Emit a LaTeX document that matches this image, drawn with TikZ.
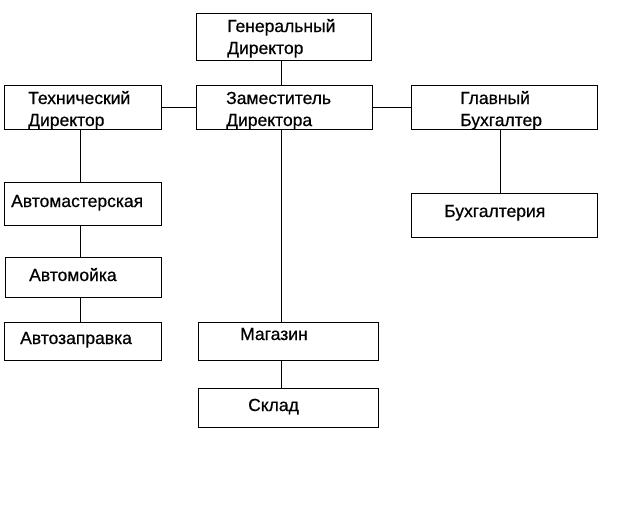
\documentclass[tikz,border=0pt]{standalone}
\usepackage{fontspec}
\setmainfont{Liberation Sans}
\newfontfamily\heavyfont{Liberation Sans}[FakeBold=0.6]
\begin{document}
\begin{tikzpicture}[x=1pt,y=-1pt,
  box/.style={draw, line width=1pt, inner sep=0pt, anchor=north west},
  txt/.style={inner sep=0pt, anchor=base west, text width=170pt, align=left,
    font=\heavyfont\fontsize{17.5}{22}\selectfont},
  link/.style={line width=1pt}]
\useasboundingbox (0,0) rectangle (640,512);
% boxes
\node[box, minimum width=175pt, minimum height=47pt] (gen) at (196,13) {};
\node[box, minimum width=157.5pt, minimum height=44pt] (tech) at (3.5,85) {};
\node[box, minimum width=176pt, minimum height=44pt] (zam) at (196,85) {};
\node[box, minimum width=186pt, minimum height=44pt] (glav) at (411,85) {};
\node[box, minimum width=157pt, minimum height=42.5pt] (avtom) at (3.5,182) {};
\node[box, minimum width=186pt, minimum height=44.5pt] (buh) at (411,192.5) {};
\node[box, minimum width=156pt, minimum height=40pt] (moika) at (5,257) {};
\node[box, minimum width=157pt, minimum height=38pt] (zapr) at (3.5,322) {};
\node[box, minimum width=180pt, minimum height=38pt] (mag) at (197.5,322) {};
\node[box, minimum width=180pt, minimum height=39pt] (sklad) at (197.5,388) {};
% texts
\node[txt] (gent) at (227,32) {Генеральный\\Директор};
\node[txt] (techt) at (28,104) {Технический\\Директор};
\node[txt] (zamt) at (226,104) {Заместитель\\Директора};
\node[txt] (glavt) at (460,104) {Главный\\Бухгалтер};
\node[txt] (avtomt) at (11,207) {Автомастерская};
\node[txt] (buht) at (444,217) {Бухгалтерия};
\node[txt] (moikat) at (29,281) {Автомойка};
\node[txt] (zaprt) at (20,344) {Автозаправка};
\node[txt] (magt) at (240,340) {Магазин};
\node[txt] (skladt) at (248,411) {Склад};
% trunks
\coordinate (mid) at (281,0);
\coordinate (left) at (80,0);
\coordinate (right) at (500,0);
% connectors
\draw[link] (gen.south -| mid) -- (zam.north -| mid);
\draw[link] (tech.east) -- (zam.west);
\draw[link] (zam.east) -- (glav.west);
\draw[link] (tech.south -| left) -- (avtom.north -| left);
\draw[link] (avtom.south -| left) -- (moika.north -| left);
\draw[link] (moika.south -| left) -- (zapr.north -| left);
\draw[link] (zam.south -| mid) -- (mag.north -| mid);
\draw[link] (mag.south -| mid) -- (sklad.north -| mid);
\draw[link] (glav.south -| right) -- (buh.north -| right);
\end{tikzpicture}
\end{document}
